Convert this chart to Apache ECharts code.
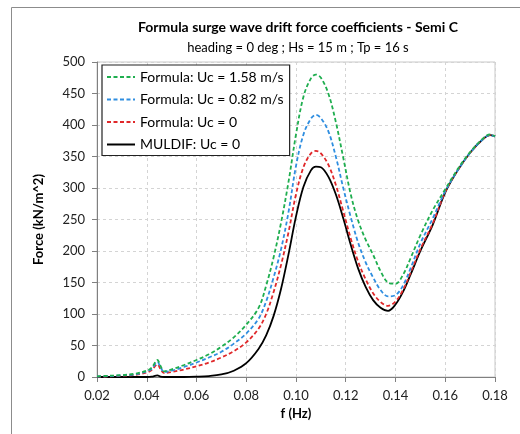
<!DOCTYPE html>
<html>
<head>
<meta charset="utf-8">
<script src="https://cdn.jsdelivr.net/npm/echarts@6/dist/echarts.min.js"></script>
<style>
  html, body { margin: 0; padding: 0; background: #fff; }
  #chart { width: 520px; height: 434px; }
</style>
</head>
<body>
<div id="chart"></div>
<script>
// Surge wave drift force coefficients vs frequency
const freq = [0.02,0.025,0.03,0.035,0.04,0.042,0.0443,0.0455,0.047,0.05,0.055,0.06,0.065,0.07,0.075,0.08,
  0.085,0.088,0.091,0.094,0.097,0.1,0.103,0.106,0.108,0.11,0.113,0.116,0.119,0.122,0.125,0.128,0.131,0.134,
  0.137,0.14,0.143,0.146,0.15,0.155,0.16,0.165,0.17,0.175,0.178,0.18];

const formulaUc158 = [1,2,3,5,10,15,27,18,9,12,19,27,36,48,63,83,
  110,145,190,245,310,385,445,474,480,475,450,405,348,290,248,218,194,168,
  150,148,162,188,225,265,298,330,357,378,385,382];

const formulaUc082 = [0.8,1.5,2.5,4,9,13,24,16,8,10,16,23,31,40,53,69,
  93,120,158,203,262,335,385,410,416,411,390,350,300,254,213,182,158,138,
  128,130,145,172,212,252,295,328,356,377,384,382];

const formulaUc0 = [0.5,1,2,3,7,11,20,13,6,8,12,17,23,31,41,55,
  77,100,135,178,230,290,333,355,359,355,337,305,263,220,183,155,133,119,
  113,120,138,165,203,244,294,328,356,377,384,382];

const muldifUc0 = [0,0,0,0,0,0.5,2.5,0.5,0,0,0,0.5,1.5,4,10,22,
  45,66,97,140,195,255,302,328,334,333,318,290,252,210,172,143,122,110,
  105,115,135,162,200,242,293,328,356,377,384,382];

const seriesNames = ['Formula: Uc = 1.58 m/s', 'Formula: Uc = 0.82 m/s', 'Formula: Uc = 0', 'MULDIF: Uc = 0'];
const seriesColors = ['#1fae4f', '#2f8ee0', '#e0282a', '#000000'];
const seriesValues = [formulaUc158, formulaUc082, formulaUc0, muldifUc0];
const seriesDash = [[4, 2.5], [4, 2.5], [4, 2.5], 'solid'];

const FONT = 'Lato, "Open Sans", sans-serif';

const chart = echarts.init(document.getElementById('chart'), null, { renderer: 'canvas' });

const series = seriesNames.map((name, i) => ({
  name: name,
  type: 'line',
  data: freq.map((f, k) => [f, seriesValues[i][k]]),
  showSymbol: false,
  symbol: 'none',
  smooth: 0.35,
  lineStyle: { color: seriesColors[i], width: 1.8, type: seriesDash[i] },
  itemStyle: { color: seriesColors[i] },
  z: 10 - i
}));

chart.setOption({
  animation: false,
  backgroundColor: '#fff',
  title: [{
    text: 'Formula surge wave drift force coefficients - Semi C',
    left: 293, top: 15, textAlign: 'center',
    textStyle: { fontFamily: FONT, fontSize: 14, fontWeight: 'bold', color: '#000' }
  }, {
    text: 'heading = 0 deg ; Hs = 15 m ; Tp = 16 s',
    left: 293, top: 36, textAlign: 'center',
    textStyle: { fontFamily: FONT, fontSize: 13, fontWeight: 'normal', color: '#000' }
  }],
  graphic: [{
    type: 'rect',
    shape: { x: 11.5, y: 7.5, width: 700, height: 700 },
    style: { fill: 'none', stroke: '#8c8c8c', lineWidth: 1 },
    silent: true, z: -10
  }],
  legend: {
    data: seriesNames,
    orient: 'vertical',
    left: 102, top: 65,
    padding: [5, 6, 4, 4],
    itemWidth: 28, itemHeight: 12,
    itemGap: 8.5,
    backgroundColor: '#fff',
    borderColor: '#222',
    borderWidth: 1.2,
    itemStyle: { opacity: 0 },
    textStyle: { fontFamily: FONT, fontSize: 14, color: '#000' }
  },
  grid: {
    left: 97, right: 25, top: 62, bottom: 57,
    show: true, borderColor: '#c8c8c8', borderWidth: 1
  },
  xAxis: {
    type: 'value',
    min: 0.02, max: 0.18, interval: 0.02,
    name: 'f (Hz)', nameLocation: 'middle', nameGap: 26,
    nameTextStyle: { fontFamily: FONT, fontSize: 13, fontWeight: 'bold', color: '#000' },
    axisLine: { show: true, onZero: false, lineStyle: { color: '#808080', width: 1 } },
    axisTick: { show: true, length: 5, lineStyle: { color: '#808080' } },
    axisLabel: { fontFamily: FONT, fontSize: 13, color: '#222', margin: 12, formatter: v => v.toFixed(2) },
    splitLine: { show: true, lineStyle: { color: '#d4d4d4', type: [3, 3] } }
  },
  yAxis: {
    type: 'value',
    min: 0, max: 500, interval: 50,
    name: 'Force (kN/m^2)', nameLocation: 'middle', nameGap: 52, nameRotate: 90,
    nameTextStyle: { fontFamily: FONT, fontSize: 13, fontWeight: 'bold', color: '#000' },
    axisLine: { show: true, lineStyle: { color: '#808080', width: 1 } },
    axisTick: { show: true, length: 5, lineStyle: { color: '#808080' } },
    axisLabel: { fontFamily: FONT, fontSize: 13, color: '#222', margin: 12 },
    splitLine: { show: true, lineStyle: { color: '#d4d4d4', type: [3, 3] } }
  },
  series: series
});
</script>
</body>
</html>
